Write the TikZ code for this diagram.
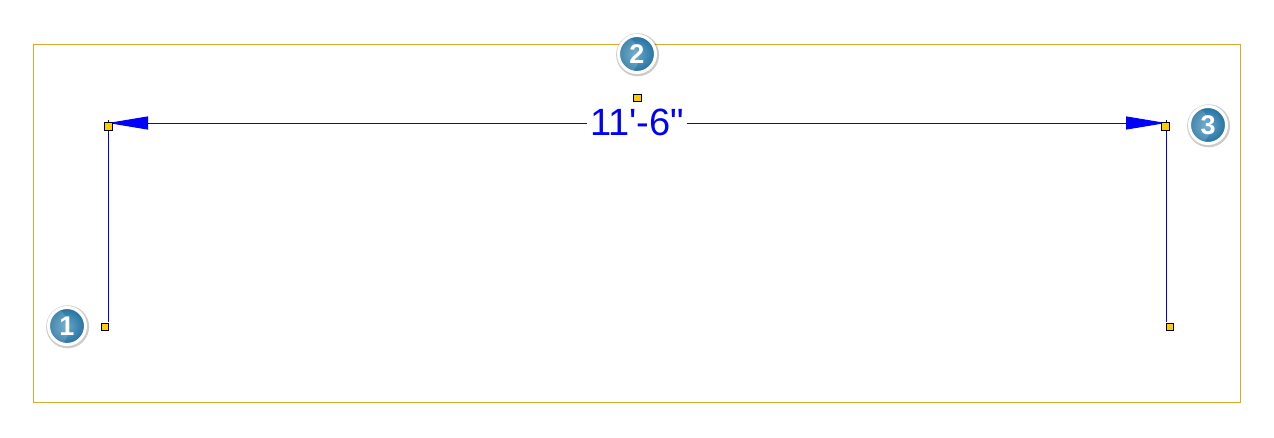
\documentclass[tikz,border=0pt]{standalone}
\usepackage{fontspec}
\setmainfont{Liberation Sans}
\newfontfamily\dimfont{Liberation Sans}[Ligatures=TeXOff]
\usetikzlibrary{arrows.meta,shadows,calc}
\definecolor{framegold}{RGB}{222,166,44}
\definecolor{dimblue}{RGB}{0,0,255}
\definecolor{gripyellow}{RGB}{255,204,0}
\definecolor{badgedark}{RGB}{34,112,158}
\definecolor{badgelight}{RGB}{100,165,202}
\tikzset{
  frame/.style={draw=framegold, line width=1pt},
  dimline/.style={draw=dimblue, line width=1pt},
  dimtip/.style={-{Triangle[length=40pt,width=13pt]}},
  grip/.style={draw=black, fill=gripyellow, line width=0.9pt, minimum size=7.5pt, inner sep=0pt, outer sep=0pt, rectangle},
  badgehalo/.style={circle, fill=black, fill opacity=0.2, minimum size=43pt, inner sep=0pt, draw=none},
  badge/.style={circle, draw=white, line width=3pt, minimum size=37pt, inner sep=0pt,
    shading=radial, inner color=badgelight, outer color=badgedark,
    text=white, font=\bfseries\fontsize{27}{27}\selectfont},
  dimtext/.style={text=dimblue, fill=white, inner sep=3pt, font=\dimfont\fontsize{38}{38}\selectfont}
}
\begin{document}
\begin{tikzpicture}[x=1pt,y=-1pt]
\useasboundingbox (0,0) rectangle (1274,437);
\fill[white] (0,0) rectangle (1274,437);
% frame
\draw[frame] (33.5,44.5) rectangle (1240.5,402.5);
% coordinates
\coordinate (LB) at (108,322);
\coordinate (LT) at (108,120);
\coordinate (RB) at (1166,322);
\coordinate (RT) at (1166,120);
\coordinate (DL) at (108,123);
\coordinate (DR) at (1166,123);
% extension lines
\draw[dimline] (LB) -- (LT);
\draw[dimline] (RB) -- (RT);
% dimension line
\node[dimtext, anchor=base] (T) at (637,135) {11'-6"};
\draw[dimline, dimtip] (T.west |- DL) -- (DL);
\draw[dimline, dimtip] (T.east |- DR) -- (DR);
% grips
\node[grip] (g1) at (105,327) {};
\node[grip] (g2) at (1170,327) {};
\node[grip] (g3) at (108.5,126.5) {};
\node[grip] (g4) at (1165.5,126.5) {};
\node[grip] (g5) at (637.5,98) {};
% badges
\foreach \n/\x/\y in {1/67/326, 2/637/54, 3/1208/125}{
  \node[badgehalo] (h\n) at (\x+0.6,\y+0.8) {};
  \node[badge, path picture={
      \fill[white, opacity=0.15] ([xshift=-20pt,yshift=-2pt]path picture bounding box.center) circle (22pt);
    }] (b\n) at (\x,\y) {\n};
}
\end{tikzpicture}
\end{document}
